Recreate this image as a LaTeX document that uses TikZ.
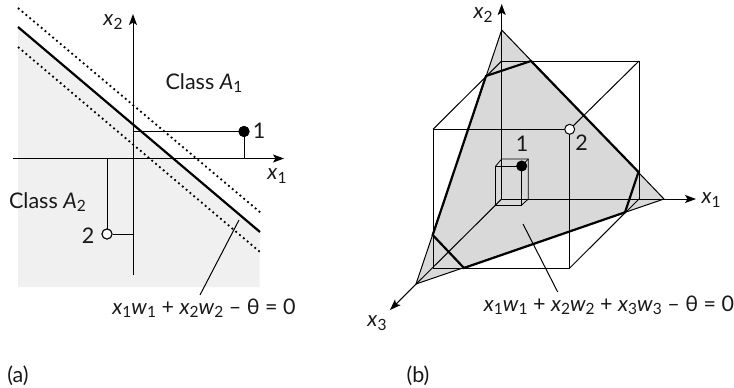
\documentclass[tikz,border=0pt]{standalone}
\usepackage{fontspec}
\setmainfont{Lato}
\usetikzlibrary{arrows.meta}
\newcommand{\lowsub}[1]{\raisebox{-0.3ex}{\fontsize{15.5}{16}\selectfont #1}}
\newcommand{\vv}[2]{\textit{#1}\lowsub{#2}}
\definecolor{shadeA}{gray}{0.94}
\definecolor{shadeB}{gray}{0.85}
\tikzset{
  x=1pt,y=-1pt,
  axis/.style={line width=1pt,-{Stealth[length=11pt,width=8pt,inset=2.5pt]}},
  thinl/.style={line width=1pt,line join=miter},
  thinner/.style={line width=0.8pt},
  thick line/.style={line width=2.2pt,line join=miter},
  dots/.style={line width=1.8pt,dash pattern=on 1.8pt off 3.2pt},
  lab/.style={font=\fontsize{21.5}{24}\selectfont,inner sep=0pt,text=black!90},
  dot/.style={circle,inner sep=0pt,minimum size=10pt,draw=black,line width=1pt}
}
\begin{document}
\begin{tikzpicture}
\useasboundingbox (0,0) rectangle (734,388);
% --- (a) ---
\coordinate (tl) at (18,27); \coordinate (tr) at (260,232);
\fill[shadeA] (18,27) -- (259.5,232) -- (259.5,287) -- (18,287) -- cycle;
\coordinate (oa) at (133,158.5);
\coordinate (yt) at (133,14); \coordinate (yb) at (133,275);
\coordinate (xl) at (13,158.5); \coordinate (xr) at (284,158.5);
\draw[axis] (yb) -- (yt);
\draw[axis] (xl) -- (xr);
\coordinate (ua) at (18,8); \coordinate (ub) at (261,213);
\coordinate (la) at (18,47); \coordinate (lb) at (260,252);
\draw[dots] (ua) -- (ub);
\draw[dots] (la) -- (lb);
\draw[thick line] (tl) -- (tr);
\coordinate (y1) at (133,131.5); \coordinate (x1) at (244,158.5);
\coordinate (x2) at (107,158.5); \coordinate (y2) at (133,234);
\node[dot,fill=black] (p1) at (244,131.5) {};
\node[dot,fill=white] (p2) at (107,234) {};
\draw[thinl] (y1) -- (p1) -- (x1);
\draw[thinl] (x2) -- (p2) -- (y2);
\node[dot,fill=black] at (p1) {};
\node[dot,fill=white] at (p2) {};
\coordinate (ma) at (239,220); \coordinate (mb) at (200,295);
\draw[thinl] (ma) -- (mb);
\node[lab] (ta1) at (113,22) {\vv{x}{2}};
\node[lab] (ta2) at (277,176) {\vv{x}{1}};
\node[lab] (ta3) at (204,83) {Class \vv{A}{1}};
\node[lab] (ta4) at (47.5,202) {Class \vv{A}{2}};
\node[lab] (ta5) at (259,131) {1};
\node[lab] (ta6) at (88,236) {2};
\node[lab] (ta7) at (204,308) {\vv{x}{1}\vv{w}{1} + \vv{x}{2}\vv{w}{2} – θ = 0};
\node[lab] (ta8) at (18,376) {(a)};
% --- (b) ---
\coordinate (O) at (501.7,199);
\coordinate (T) at (501.7,30); \coordinate (R) at (664,199); \coordinate (L) at (416,284);
\fill[shadeB] (T) -- (R) -- (L) -- cycle;
\draw[thinl] (T) -- (R) -- (L) -- cycle;
\coordinate (b1) at (501.7,61); \coordinate (b2) at (639,61); \coordinate (b3) at (639,199);
\coordinate (f1) at (433,129.3); \coordinate (f2) at (569.7,129.3);
\coordinate (f3) at (569.7,268); \coordinate (f4) at (433,268);
\draw[thinl] (f1) -- (f2) -- (f3) -- (f4) -- cycle;
\draw[thinl] (b1) -- (b2) -- (b3);
\draw[thinl] (f1) -- (b1);
\draw[thinl] (f2) -- (b2);
\draw[thinl] (f3) -- (b3);
\coordinate (x2t) at (501.7,4); \coordinate (x1t) at (696,199); \coordinate (x3t) at (390,310);
\draw[axis] (O) -- (x2t);
\draw[axis] (O) -- (x1t);
\draw[axis] (O) -- (x3t);
% small box
\coordinate (s1) at (495.7,166); \coordinate (s2) at (521.7,166);
\coordinate (s3) at (521.7,205); \coordinate (s4) at (495.7,205);
\coordinate (s5) at (501.7,159); \coordinate (s6) at (528.3,159);
\coordinate (s7) at (528.3,199);
\draw[thinner] (s1) -- (s2) -- (s3) -- (s4) -- cycle;
\draw[thinner] (s1) -- (s5) -- (s6) -- (s7) -- (s3);
\draw[thinner] (s2) -- (s6);
% plane cut
\coordinate (c1) at (486,76); \coordinate (c2) at (531,61); \coordinate (c3) at (638.5,172);
\coordinate (c4) at (625,212.3); \coordinate (c5) at (464,268); \coordinate (c6) at (432.7,235);
\draw[thick line] (c1) -- (c2) -- (c3) -- (c4) -- (c5) -- (c6) -- cycle;
\node[dot,fill=black] (q1) at (521.7,166) {};
\node[dot,fill=white] (q2) at (569.7,129.3) {};
\coordinate (lbx) at (523,224); \coordinate (lby) at (557.7,292);
\draw[thinl] (lbx) -- (lby);
\node[lab] (tb1) at (483,15) {\vv{x}{2}};
\node[lab] (tb2) at (711,200) {\vv{x}{1}};
\node[lab] (tb3) at (377,323) {\vv{x}{3}};
\node[lab] (tb4) at (522,144) {1};
\node[lab] (tb5) at (581.5,143) {2};
\node[lab] (tb6) at (609,305) {\vv{x}{1}\vv{w}{1} + \vv{x}{2}\vv{w}{2} + \vv{x}{3}\vv{w}{3} – θ = 0};
\node[lab] (tb7) at (418,376) {(b)};
\end{tikzpicture}
\end{document}
